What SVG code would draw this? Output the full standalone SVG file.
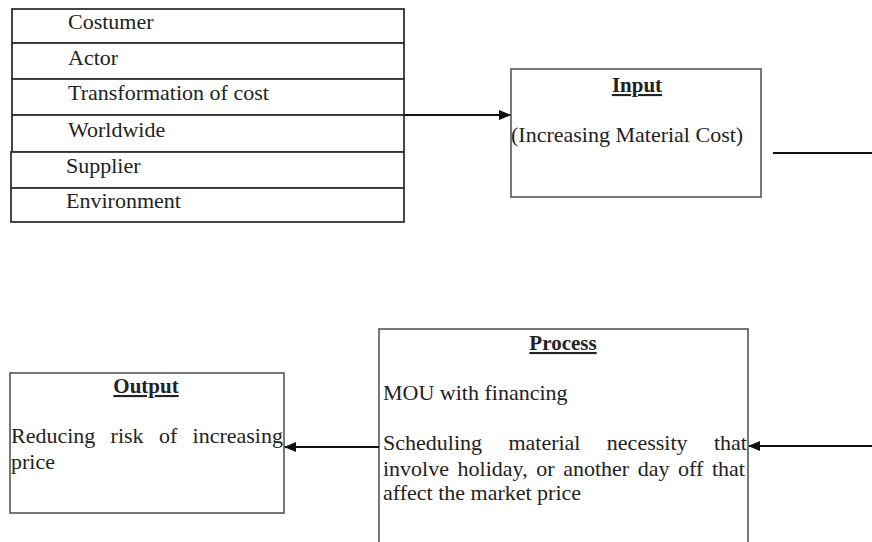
<svg xmlns="http://www.w3.org/2000/svg" width="872" height="542" viewBox="0 0 872 542">
<style>
  .box { fill: #fff; stroke: #555; stroke-width: 1.6; }
  .row { fill: #fff; stroke: #333; stroke-width: 1.8; }
  .t { font-family: "Liberation Serif", "Times New Roman", serif; font-size: 22px; fill: #222; }
  .h { font-family: "Liberation Serif", "Times New Roman", serif; font-size: 21px; font-weight: bold; fill: #222; text-decoration: underline; }
  .c { stroke: #111; stroke-width: 2; fill: none; }
</style>
<defs>
  <marker id="arr" markerWidth="12" markerHeight="10" refX="11" refY="5" orient="auto" markerUnits="userSpaceOnUse">
    <path d="M0,0 L12,5 L0,10 Z" fill="#111"/>
  </marker>
</defs>
<rect width="872" height="542" fill="#fff"/>

<g id="factors">
  <rect class="row" x="12" y="9" width="392" height="34"/>
  <rect class="row" x="12" y="43" width="392" height="36"/>
  <rect class="row" x="12" y="79" width="392" height="36"/>
  <rect class="row" x="12" y="115" width="392" height="37"/>
  <rect class="row" x="11" y="152" width="393" height="36"/>
  <rect class="row" x="11" y="188" width="393" height="34"/>
  <text class="t" x="68" y="29">Costumer</text>
  <text class="t" x="68" y="65">Actor</text>
  <text class="t" x="68" y="100">Transformation of cost</text>
  <text class="t" x="68" y="137">Worldwide</text>
  <text class="t" x="66" y="173">Supplier</text>
  <text class="t" x="66" y="208">Environment</text>
</g>

<g id="input">
  <rect class="box" x="511" y="69" width="250" height="128"/>
  <text class="h" x="637" y="92" text-anchor="middle">Input</text>
  <text class="t" x="511" y="142">(Increasing Material Cost)</text>
</g>

<g id="process">
  <rect class="box" x="379" y="329" width="369" height="230"/>
  <text class="h" x="563" y="350" text-anchor="middle">Process</text>
  <text class="t" x="383" y="400">MOU with financing</text>
  <text class="t" x="383" y="450" word-spacing="20.9">Scheduling material necessity that</text>
  <text class="t" x="383" y="476" word-spacing="3.1">involve holiday, or another day off that</text>
  <text class="t" x="383" y="500">affect the market price</text>
</g>

<g id="output">
  <rect class="box" x="10" y="373" width="274" height="140"/>
  <text class="h" x="146" y="393" text-anchor="middle">Output</text>
  <text class="t" x="11" y="443" word-spacing="9.8">Reducing risk of increasing</text>
  <text class="t" x="11" y="469">price</text>
</g>

<g id="connectors">
  <line class="c" x1="404" y1="115" x2="510" y2="115" marker-end="url(#arr)"/>
  <line class="c" x1="773" y1="153" x2="872" y2="153"/>
  <line class="c" x1="872" y1="446" x2="749" y2="446" marker-end="url(#arr)"/>
  <line class="c" x1="379" y1="447" x2="285" y2="447" marker-end="url(#arr)"/>
</g>
</svg>
